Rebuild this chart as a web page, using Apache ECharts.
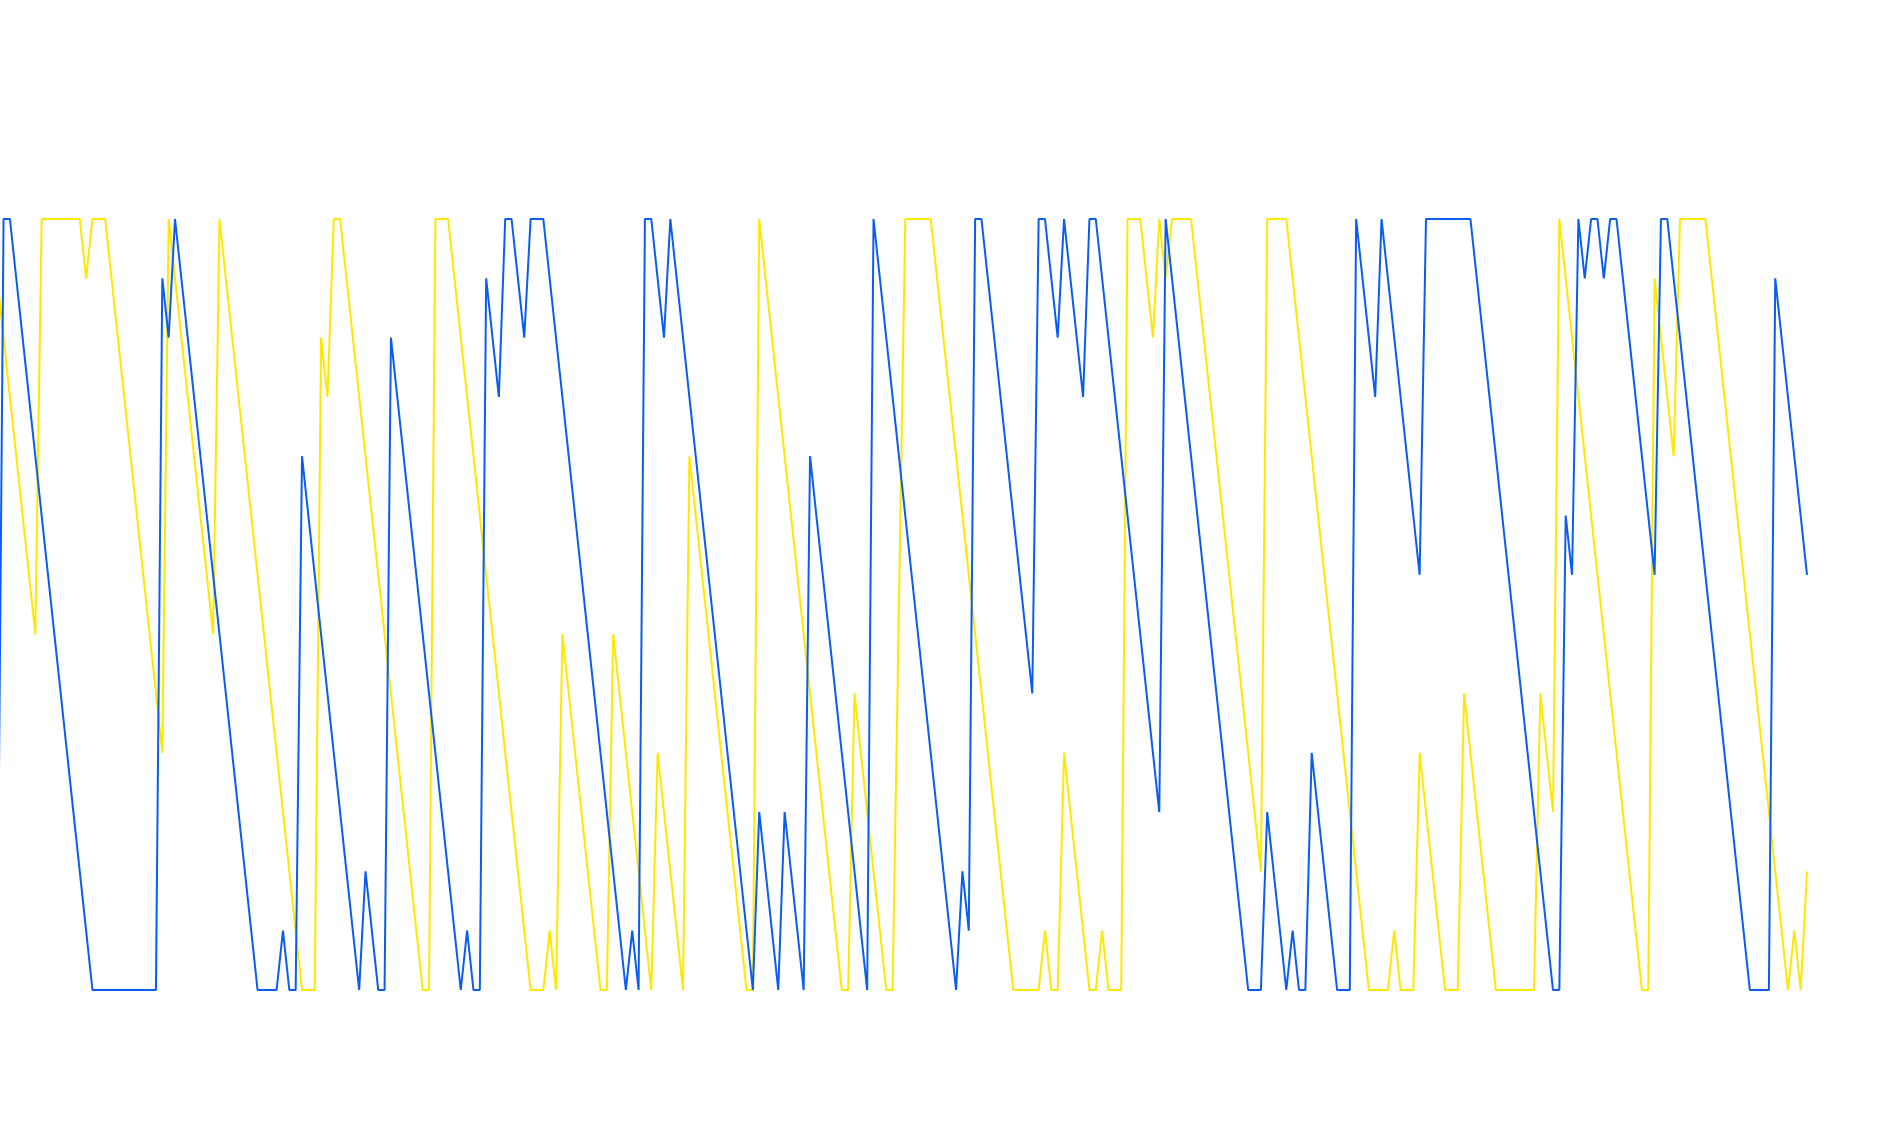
<!DOCTYPE html>
<html>
<head>
<meta charset="utf-8">
<script src="https://cdn.jsdelivr.net/npm/echarts@6/dist/echarts.min.js"></script>
<style>
  html, body { margin: 0; padding: 0; background: #fff; }
  #chart { width: 1890px; height: 1148px; }
</style>
</head>
<body>
<div id="chart"></div>
<script>
// values, one per step
const blueValues = [
  0, 13, 13, 12, 11, 10, 9, 8, 7, 6,
  5, 4, 3, 2, 1, 0, 0, 0, 0, 0,
  0, 0, 0, 0, 0, 0, 12, 11, 13, 12,
  11, 10, 9, 8, 7, 6, 5, 4, 3, 2,
  1, 0, 0, 0, 0, 1, 0, 0, 9, 8,
  7, 6, 5, 4, 3, 2, 1, 0, 2, 1,
  0, 0, 11, 10, 9, 8, 7, 6, 5, 4,
  3, 2, 1, 0, 1, 0, 0, 12, 11, 10,
  13, 13, 12, 11, 13, 13, 13, 12, 11, 10,
  9, 8, 7, 6, 5, 4, 3, 2, 1, 0,
  1, 0, 13, 13, 12, 11, 13, 12, 11, 10,
  9, 8, 7, 6, 5, 4, 3, 2, 1, 0,
  3, 2, 1, 0, 3, 2, 1, 0, 9, 8,
  7, 6, 5, 4, 3, 2, 1, 0, 13, 12,
  11, 10, 9, 8, 7, 6, 5, 4, 3, 2,
  1, 0, 2, 1, 13, 13, 12, 11, 10, 9,
  8, 7, 6, 5, 13, 13, 12, 11, 13, 12,
  11, 10, 13, 13, 12, 11, 10, 9, 8, 7,
  6, 5, 4, 3, 13, 12, 11, 10, 9, 8,
  7, 6, 5, 4, 3, 2, 1, 0, 0, 0,
  3, 2, 1, 0, 1, 0, 0, 4, 3, 2,
  1, 0, 0, 0, 13, 12, 11, 10, 13, 12,
  11, 10, 9, 8, 7, 13, 13, 13, 13, 13,
  13, 13, 13, 12, 11, 10, 9, 8, 7, 6,
  5, 4, 3, 2, 1, 0, 0, 8, 7, 13,
  12, 13, 13, 12, 13, 13, 12, 11, 10, 9,
  8, 7, 13, 13, 12, 11, 10, 9, 8, 7,
  6, 5, 4, 3, 2, 1, 0, 0, 0, 0,
  12, 11, 10, 9, 8, 7,
]

const yellowValues = [
  12, 11, 10, 9, 8, 7, 6, 13, 13, 13,
  13, 13, 13, 13, 12, 13, 13, 13, 12, 11,
  10, 9, 8, 7, 6, 5, 4, 13, 12, 11,
  10, 9, 8, 7, 6, 13, 12, 11, 10, 9,
  8, 7, 6, 5, 4, 3, 2, 1, 0, 0,
  0, 11, 10, 13, 13, 12, 11, 10, 9, 8,
  7, 6, 5, 4, 3, 2, 1, 0, 0, 13,
  13, 13, 12, 11, 10, 9, 8, 7, 6, 5,
  4, 3, 2, 1, 0, 0, 0, 1, 0, 6,
  5, 4, 3, 2, 1, 0, 0, 6, 5, 4,
  3, 2, 1, 0, 4, 3, 2, 1, 0, 9,
  8, 7, 6, 5, 4, 3, 2, 1, 0, 0,
  13, 12, 11, 10, 9, 8, 7, 6, 5, 4,
  3, 2, 1, 0, 0, 5, 4, 3, 2, 1,
  0, 0, 6.5, 13, 13, 13, 13, 13, 12, 11,
  10, 9, 8, 7, 6, 5, 4, 3, 2, 1,
  0, 0, 0, 0, 0, 1, 0, 0, 4, 3,
  2, 1, 0, 0, 1, 0, 0, 0, 13, 13,
  13, 12, 11, 13, 12, 13, 13, 13, 13, 12,
  11, 10, 9, 8, 7, 6, 5, 4, 3, 2,
  13, 13, 13, 13, 12, 11, 10, 9, 8, 7,
  6, 5, 4, 3, 2, 1, 0, 0, 0, 0,
  1, 0, 0, 0, 4, 3, 2, 1, 0, 0,
  0, 5, 4, 3, 2, 1, 0, 0, 0, 0,
  0, 0, 0, 5, 4, 3, 13, 12, 11, 10,
  9, 8, 7, 6, 5, 4, 3, 2, 1, 0,
  0, 12, 11, 10, 9, 13, 13, 13, 13, 13,
  12, 11, 10, 9, 8, 7, 6, 5, 4, 3,
  2, 1, 0, 1, 0, 2,
]

// step index of each sample; the view starts a bit after the first one
const steps = blueValues.map((_, i) => i)
const firstVisibleStep = 0.44

const chart = echarts.init(document.getElementById('chart'))
chart.setOption({
  animation: false,
  backgroundColor: '#ffffff',
  grid: {
    left: 0,
    right: 83,
    top: 219,
    bottom: 158,
  },
  xAxis: {
    type: 'value',
    min: firstVisibleStep,
    max: steps[steps.length - 1],
    show: false,
  },
  yAxis: {
    type: 'value',
    min: 0,
    max: 13,
    show: false,
  },
  series: [
    {
      name: 'yellow',
      type: 'line',
      data: steps.map(i => [i, yellowValues[i]]),
      showSymbol: false,
      clip: false,
      lineStyle: { color: '#ffe800', width: 2 },
      itemStyle: { color: '#ffe800' },
    },
    {
      name: 'blue',
      type: 'line',
      data: steps.map(i => [i, blueValues[i]]),
      showSymbol: false,
      clip: false,
      lineStyle: { color: '#0a5cf2', width: 2 },
      itemStyle: { color: '#0a5cf2' },
    },
  ],
})
</script>
</body>
</html>
